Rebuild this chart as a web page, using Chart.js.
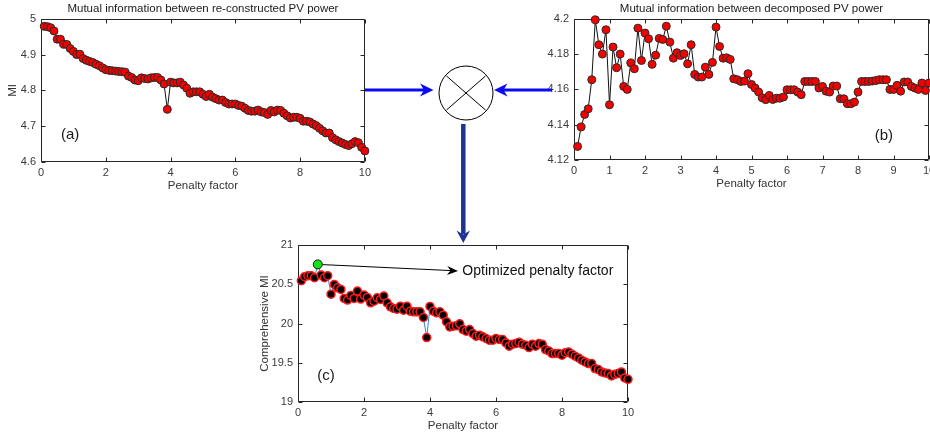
<!DOCTYPE html>
<html>
<head>
<meta charset="utf-8">
<script src="https://cdn.jsdelivr.net/npm/chart.js@4.4.1/dist/chart.umd.min.js"></script>
<style>
  html, body { margin: 0; padding: 0; background: #fff; }
  body { width: 930px; height: 435px; position: relative; overflow: hidden; }
  .box { position: absolute; }
  #ovl { position: absolute; left: 0; top: 0; pointer-events: none; }
</style>
</head>
<body>
<div class="box" style="left:0;top:0"><canvas id="chartA" width="375" height="200"></canvas></div>
<div class="box" style="left:533px;top:0"><canvas id="chartB" width="410" height="200"></canvas></div>
<div class="box" style="left:240px;top:230px"><canvas id="chartC" width="400" height="205"></canvas></div>

<svg id="ovl" width="930" height="435">
  <circle cx="466" cy="93" r="27" fill="#fff" stroke="#000" stroke-width="1"/>
  <line x1="446.5" y1="76" x2="485.5" y2="110" stroke="#000" stroke-width="1"/>
  <line x1="485.5" y1="76" x2="446.5" y2="110" stroke="#000" stroke-width="1"/>
  <line x1="365" y1="90" x2="424" y2="90" stroke="#0a0af5" stroke-width="3"/>
  <polygon points="433.5,90 420,83.5 424,90 420,96.5" fill="#0a0af5"/>
  <line x1="552" y1="90" x2="503" y2="90" stroke="#0a0af5" stroke-width="3"/>
  <polygon points="494,90 507.5,83.5 503.5,90 507.5,96.5" fill="#0a0af5"/>
  <line x1="463.3" y1="124" x2="463.3" y2="234" stroke="#1c3593" stroke-width="4.5"/>
  <polygon points="463.3,243 456.5,230.5 463.3,234.5 470,230.5" fill="#1c3593"/>
</svg>

<script>
// penalty factor (x) and the three MI curves
const penalty = [
  0.1, 0.2, 0.3, 0.4, 0.5, 0.6, 0.7, 0.8, 0.9, 1.0,
  1.1, 1.2, 1.3, 1.4, 1.5, 1.6, 1.7, 1.8, 1.9, 2.0,
  2.1, 2.2, 2.3, 2.4, 2.5, 2.6, 2.7, 2.8, 2.9, 3.0,
  3.1, 3.2, 3.3, 3.4, 3.5, 3.6, 3.7, 3.8, 3.9, 4.0,
  4.1, 4.2, 4.3, 4.4, 4.5, 4.6, 4.7, 4.8, 4.9, 5.0,
  5.1, 5.2, 5.3, 5.4, 5.5, 5.6, 5.7, 5.8, 5.9, 6.0,
  6.1, 6.2, 6.3, 6.4, 6.5, 6.6, 6.7, 6.8, 6.9, 7.0,
  7.1, 7.2, 7.3, 7.4, 7.5, 7.6, 7.7, 7.8, 7.9, 8.0,
  8.1, 8.2, 8.3, 8.4, 8.5, 8.6, 8.7, 8.8, 8.9, 9.0,
  9.1, 9.2, 9.3, 9.4, 9.5, 9.6, 9.7, 9.8, 9.9, 10.0
];

// (a) MI between re-constructed PV power
const miRecon = [
  4.979, 4.978, 4.975, 4.966, 4.943, 4.943, 4.929, 4.928, 4.917, 4.909,
  4.900, 4.901, 4.889, 4.884, 4.881, 4.878, 4.873, 4.869, 4.863, 4.858,
  4.856, 4.855, 4.854, 4.853, 4.852, 4.851, 4.840, 4.836, 4.829, 4.827,
  4.835, 4.833, 4.832, 4.835, 4.836, 4.836, 4.829, 4.818, 4.747, 4.823,
  4.821, 4.821, 4.823, 4.815, 4.806, 4.792, 4.796, 4.796, 4.796, 4.789,
  4.783, 4.789, 4.781, 4.777, 4.773, 4.773, 4.766, 4.762, 4.762, 4.762,
  4.758, 4.756, 4.750, 4.744, 4.742, 4.742, 4.745, 4.740, 4.738, 4.733,
  4.744, 4.740, 4.745, 4.744, 4.736, 4.729, 4.723, 4.725, 4.725, 4.722,
  4.714, 4.714, 4.712, 4.706, 4.701, 4.694, 4.687, 4.681, 4.681, 4.668,
  4.662, 4.657, 4.653, 4.649, 4.646, 4.651, 4.657, 4.654, 4.641, 4.631
];

// (b) MI between decomposed PV power
const miDecomp = [
  4.1277, 4.1387, 4.1458, 4.1490, 4.1655, 4.1994, 4.1853, 4.1800, 4.1938, 4.1513,
  4.1840, 4.1723, 4.1800, 4.1617, 4.1600, 4.1750, 4.1717, 4.1947, 4.1764, 4.1919,
  4.1887, 4.1742, 4.1794, 4.1889, 4.1883, 4.1958, 4.1868, 4.1777, 4.1808, 4.1792,
  4.1802, 4.1745, 4.1853, 4.1685, 4.1670, 4.1670, 4.1726, 4.1685, 4.1753, 4.1953,
  4.1843, 4.1777, 4.1779, 4.1770, 4.1660, 4.1655, 4.1645, 4.1647, 4.1689, 4.1628,
  4.1608, 4.1585, 4.1553, 4.1542, 4.1566, 4.1543, 4.1550, 4.1550, 4.1557, 4.1598,
  4.1598, 4.1598, 4.1585, 4.1570, 4.1645, 4.1645, 4.1645, 4.1645, 4.1608, 4.1617,
  4.1590, 4.1585, 4.1619, 4.1619, 4.1547, 4.1547, 4.1519, 4.1519, 4.1528, 4.1585,
  4.1645, 4.1645, 4.1645, 4.1647, 4.1650, 4.1655, 4.1655, 4.1655, 4.1600, 4.1600,
  4.1623, 4.1590, 4.1642, 4.1642, 4.1617, 4.1608, 4.1600, 4.1636, 4.1594, 4.1636
];

// (c) comprehensive MI
const miComp = [
  20.545, 20.596, 20.609, 20.609, 20.583, 20.753, 20.617, 20.583, 20.609, 20.374,
  20.498, 20.455, 20.434, 20.319, 20.298, 20.357, 20.319, 20.413, 20.311, 20.362,
  20.332, 20.264, 20.285, 20.328, 20.306, 20.349, 20.264, 20.213, 20.191, 20.183,
  20.221, 20.170, 20.221, 20.157, 20.149, 20.149, 20.149, 20.077, 19.821, 20.217,
  20.157, 20.136, 20.149, 20.106, 20.021, 19.957, 19.966, 19.970, 19.996, 19.923,
  19.902, 19.923, 19.872, 19.838, 19.851, 19.830, 19.809, 19.787, 19.787, 19.809,
  19.796, 19.796, 19.753, 19.711, 19.736, 19.745, 19.762, 19.736, 19.723, 19.694,
  19.736, 19.711, 19.745, 19.736, 19.668, 19.651, 19.617, 19.617, 19.617, 19.596,
  19.626, 19.638, 19.609, 19.583, 19.562, 19.532, 19.511, 19.489, 19.489, 19.426,
  19.413, 19.383, 19.370, 19.362, 19.332, 19.353, 19.362, 19.383, 19.306, 19.289
];

const FONT = '"Liberation Sans", Arial, Helvetica, sans-serif';
const tickColor = '#3a3a3a';
const axisColor = '#262626';
const tickFont = { family: FONT, size: 11 };
const fmt = v => String(Math.round(v * 100) / 100);

function xy(ys) { return penalty.map((x, i) => ({ x: x, y: ys[i] })); }

// box around the plot with inward ticks on all four sides (matlab style)
const frameTicks = {
  id: 'frameTicks',
  beforeDatasetsDraw(chart) {
    const { ctx, chartArea: a, scales: { x, y } } = chart;
    const L = Math.round(a.left) + 0.5, R = Math.round(a.right) - 0.5;
    const T = Math.round(a.top) + 0.5, B = Math.round(a.bottom) - 0.5;
    ctx.save();
    ctx.strokeStyle = axisColor;
    ctx.lineWidth = 1;
    ctx.beginPath();
    ctx.rect(L, T, R - L, B - T);
    x.ticks.forEach(t => {
      const px = Math.round(x.getPixelForValue(t.value)) + 0.5;
      ctx.moveTo(px, B); ctx.lineTo(px, B - 4);
      ctx.moveTo(px, T); ctx.lineTo(px, T + 4);
    });
    y.ticks.forEach(t => {
      const py = Math.round(y.getPixelForValue(t.value)) + 0.5;
      ctx.moveTo(L, py); ctx.lineTo(L + 4, py);
      ctx.moveTo(R, py); ctx.lineTo(R - 4, py);
    });
    ctx.stroke();
    ctx.restore();
  }
};

// panel letters and other text placed in data coordinates
const panelText = {
  id: 'panelText',
  afterDatasetsDraw(chart, args, opts) {
    const { ctx, scales: { x, y } } = chart;
    (opts.items || []).forEach(it => {
      ctx.save();
      ctx.font = it.font;
      ctx.fillStyle = it.color || '#1a1a1a';
      ctx.textAlign = it.align || 'center';
      ctx.textBaseline = 'middle';
      ctx.fillText(it.text, x.getPixelForValue(it.x), y.getPixelForValue(it.y));
      ctx.restore();
    });
  }
};

// arrow from the best point to the text
const pointerArrow = {
  id: 'pointerArrow',
  afterDatasetsDraw(chart, args, opts) {
    if (opts.index == null) return;
    const { ctx, scales: { x, y } } = chart;
    const x0 = x.getPixelForValue(penalty[opts.index]);
    const y0 = y.getPixelForValue(miComp[opts.index]);
    const x1 = x.getPixelForValue(opts.toX);
    const y1 = y.getPixelForValue(opts.toY);
    const ang = Math.atan2(y1 - y0, x1 - x0);
    ctx.save();
    ctx.strokeStyle = '#000';
    ctx.fillStyle = '#000';
    ctx.lineWidth = 1;
    ctx.beginPath();
    ctx.moveTo(x0 + 5 * Math.cos(ang), y0 + 5 * Math.sin(ang));
    ctx.lineTo(x1 - 6 * Math.cos(ang), y1 - 6 * Math.sin(ang));
    ctx.stroke();
    ctx.translate(x1, y1);
    ctx.rotate(ang);
    ctx.beginPath();
    ctx.moveTo(0, 0);
    ctx.lineTo(-11, -4.5);
    ctx.lineTo(-7.5, 0);
    ctx.lineTo(-11, 4.5);
    ctx.closePath();
    ctx.fill();
    ctx.restore();
  }
};

function xAxis(step, h, pb) {
  return {
    type: 'linear', min: 0, max: 10,
    grid: { display: false, drawTicks: false }, border: { display: false },
    ticks: { stepSize: step, autoSkip: false, maxRotation: 0, padding: 4, color: tickColor, font: tickFont, callback: fmt },
    title: { display: true, text: 'Penalty factor', color: '#333', font: { family: FONT, size: 11.5 }, padding: { top: 0, bottom: pb } },
    afterFit: s => { s.height = h; }
  };
}

function yAxis(min, max, step, w, label, pt) {
  return {
    min: min, max: max,
    grid: { display: false, drawTicks: false }, border: { display: false },
    ticks: { stepSize: step, padding: 5, color: tickColor, font: tickFont, callback: fmt },
    title: { display: !!label, text: label, color: '#333', font: { family: FONT, size: 11.5 }, padding: { top: pt, bottom: 0 } },
    afterFit: s => { s.width = w; }
  };
}

function titleOpt(text) {
  return {
    display: true, text: text, fullSize: false, color: '#1a1a1a',
    font: { family: FONT, size: 11.5, weight: 'normal' }, padding: { top: 2, bottom: 3 }
  };
}

Chart.defaults.animation = false;

new Chart(document.getElementById('chartA'), {
  type: 'line',
  data: {
    datasets: [{
      data: xy(miRecon),
      borderColor: '#111', borderWidth: 1,
      pointBackgroundColor: '#f40000', pointBorderColor: '#2a2a2a', pointBorderWidth: 1,
      pointRadius: 4, tension: 0, clip: false
    }]
  },
  options: {
    responsive: false, events: [],
    layout: { padding: { left: 0, right: 10, top: 0, bottom: 0 } },
    scales: { x: xAxis(2, 38, 7), y: yAxis(4.6, 5, 0.1, 41, 'MI', 6) },
    plugins: {
      legend: { display: false }, tooltip: { enabled: false },
      title: titleOpt('Mutual information between re-constructed PV power'),
      panelText: { items: [{ text: '(a)', x: 0.9, y: 4.675, font: '15px ' + FONT }] }
    }
  },
  plugins: [frameTicks, panelText]
});

new Chart(document.getElementById('chartB'), {
  type: 'line',
  data: {
    datasets: [{
      data: xy(miDecomp),
      borderColor: '#111', borderWidth: 1,
      pointBackgroundColor: '#f40000', pointBorderColor: '#2a2a2a', pointBorderWidth: 1,
      pointRadius: 4, tension: 0, clip: false
    }]
  },
  options: {
    responsive: false, events: [],
    layout: { padding: { left: 0, right: 14, top: 0, bottom: 0 } },
    scales: { x: xAxis(1, 40, 9), y: yAxis(4.12, 4.2, 0.02, 41, '', 0) },
    plugins: {
      legend: { display: false }, tooltip: { enabled: false },
      title: titleOpt('Mutual information between decomposed PV power'),
      panelText: { items: [{ text: '(b)', x: 8.73, y: 4.1336, font: '15px ' + FONT }] }
    }
  },
  plugins: [frameTicks, panelText]
});

const bestIdx = miComp.indexOf(Math.max(...miComp));

new Chart(document.getElementById('chartC'), {
  type: 'line',
  data: {
    datasets: [{
      data: xy(miComp),
      borderColor: '#2b88d8', borderWidth: 1,
      pointBackgroundColor: c => c.dataIndex === bestIdx ? '#12e612' : '#000',
      pointBorderColor: c => c.dataIndex === bestIdx ? '#111' : '#ff1a1a',
      pointBorderWidth: c => c.dataIndex === bestIdx ? 1 : 1.5,
      pointRadius: c => c.dataIndex === bestIdx ? 4.5 : 4,
      tension: 0, clip: false
    }]
  },
  options: {
    responsive: false, events: [],
    layout: { padding: { left: 0, right: 12, top: 15, bottom: 0 } },
    scales: { x: xAxis(2, 33, 2), y: yAxis(19, 21, 0.5, 58, 'Comprehensive MI', 18) },
    plugins: {
      legend: { display: false }, tooltip: { enabled: false },
      panelText: { items: [
        { text: '(c)', x: 0.85, y: 19.33, font: '15px ' + FONT },
        { text: 'Optimized penalty factor', x: 4.98, y: 20.67, font: '14px ' + FONT, align: 'left', color: '#111' }
      ] },
      pointerArrow: { index: bestIdx, toX: 4.85, toY: 20.67 }
    }
  },
  plugins: [frameTicks, panelText, pointerArrow]
});
</script>
</body>
</html>
